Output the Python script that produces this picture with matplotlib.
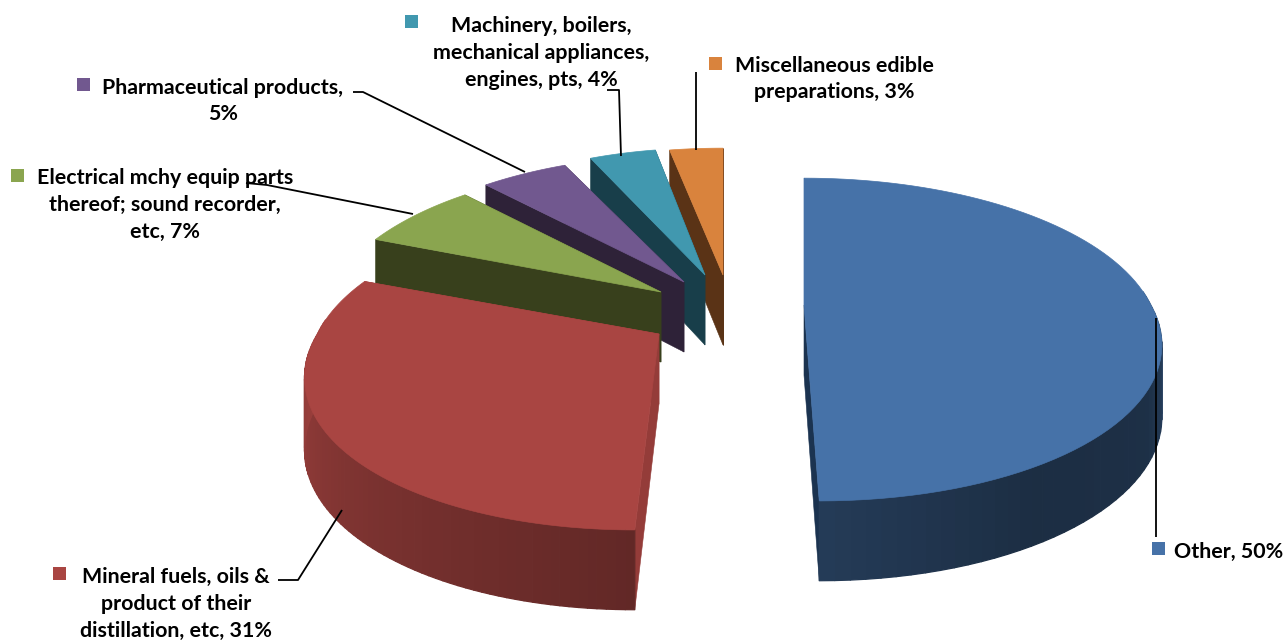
import numpy as np
import matplotlib
matplotlib.use("Agg")
import matplotlib.pyplot as plt
from matplotlib.collections import PolyCollection

plt.rcParams['font.family'] = ['Lato', 'DejaVu Sans']

# ---- data
categories = ["Other", "Mineral fuels, oils & product of their distillation, etc",
              "Electrical mchy equip parts thereof; sound recorder, etc",
              "Pharmaceutical products", "Machinery, boilers, mechanical appliances, engines, pts",
              "Miscellaneous edible preparations"]
shares = [50, 31, 7, 5, 4, 3]
label_texts = ["Other, 50%",
               "Mineral fuels, oils &\nproduct of their\ndistillation, etc, 31%",
               "Electrical mchy equip parts\nthereof; sound recorder,\netc, 7%",
               "Pharmaceutical products,\n5%",
               "Machinery, boilers,\nmechanical appliances,\nengines, pts, 4%",
               "Miscellaneous edible\npreparations, 3%"]

# ---- styles and layout (pixel space)
top_colors = ["#4672A8", "#A94542", "#8AA54F", "#71588F", "#4198AF", "#D9833D"]
wall_colors = ["#1B3350", "#943C39", "#38401C", "#2E2238", "#183E4A", "#5A3316"]
apex = [(804, 305), (659, 334), (661, 292), (684, 282), (705, 275), (723, 275)]
rx_scale = [1.005, 0.99, 0.96, 0.97, 0.93, 1]
swatch = [(1152, 542), (53, 567), (11, 169), (77, 78), (405, 15), (709, 57)]
label_pos = [(1229, 552), (176, 604), (165, 205), (223, 101), (541, 53), (834, 79)]
leaders = [[(1156, 318), (1156, 537)],
           [(342, 510), (298, 580), (278, 580)],
           [(246, 183), (267, 185), (413, 214)],
           [(353, 92), (363, 92), (525, 172)],
           [(621, 156), (619, 90), (607, 90)],
           [(696, 150), (696, 72)]]
RX, RY, K, VX = 345.0, 154.0, 0.214, 748.0
SWATCH = 13

fig = plt.figure(figsize=(12.86, 6.42), dpi=100)
ax = fig.add_axes([0, 0, 1, 1])
ax.set_xlim(0, 1286)
ax.set_ylim(642, 0)
ax.axis('off')


def project(i, theta):
    """Perspective projection of a rim point at theta radians around the apex of slice i."""
    a = apex[i]
    w = 1 + K * np.sin(theta)
    x = a[0] + RX * rx_scale[i] * np.cos(theta) / w + (a[0] - VX) * np.maximum(1 / w - 1, 0)
    y = a[1] - RY * np.sin(theta) / w
    d = 70 + 36 * (1 / w - 1)
    return x, y, d


def shade(i, theta):
    phi = np.degrees(theta)
    if i == 0:  # right side, from the bottom to the right tip
        return np.interp(phi, [-90, -60, -30, -8, 5], [.52, .40, .42, .62, .82])
    ang = (-phi - 90) % 360  # left side, from the bottom to the left tip
    return np.interp(ang, [0, 40, 80, 100, 115], [.58, .72, .88, .95, .97])


# slice angles, clockwise from 12 o'clock
edges = np.cumsum([0] + shares) / sum(shares) * 2 * np.pi
starts = np.pi / 2 - edges[:-1]
ends = np.pi / 2 - edges[1:]

order = [5, 4, 3, 2, 1, 0]
for i in order:
    a = apex[i]
    base_z = order.index(i) * 3
    th = np.linspace(starts[i], ends[i], 90)
    x, y, d = project(i, th)
    rgb = np.array(matplotlib.colors.to_rgb(top_colors[i]))

    # radial walls
    for k in (0, -1):
        wall = [(a[0], a[1]), (x[k], y[k]), (x[k], y[k] + d[k]), (a[0], a[1] + 70)]
        ax.fill(*zip(*wall), color=wall_colors[i], lw=0.4, zorder=base_z + 1)

    # curved outer wall in strips, only where it faces the viewer
    polys, cols = [], []
    for j in range(len(th) - 1):
        mid = (th[j] + th[j + 1]) / 2
        if np.sin(mid) > 0.1:
            continue
        polys.append([(x[j], y[j]), (x[j + 1], y[j + 1]),
                      (x[j + 1], y[j + 1] + d[j + 1]), (x[j], y[j] + d[j])])
        cols.append(rgb * shade(i, mid))
    if polys:
        ax.add_collection(PolyCollection(polys, facecolors=cols, edgecolors=cols,
                                         linewidths=0.9, zorder=base_z + 2))

    # top face
    ax.fill(np.r_[a[0], x], np.r_[a[1], y], color=top_colors[i], lw=0.5, zorder=base_z + 3)

# leaders, swatches, labels
for i, pts in enumerate(leaders):
    ax.plot(*zip(*pts), color='black', lw=1.3, zorder=40, solid_capstyle='butt')
    sx, sy = swatch[i]
    ax.add_patch(plt.Rectangle((sx, sy), SWATCH, SWATCH, color=top_colors[i], lw=0, zorder=41))
    ax.text(*label_pos[i], label_texts[i], ha='center', va='center', fontsize=15.4,
            fontweight='bold', color='black', linespacing=1.42, zorder=42)

fig.savefig("out.png", dpi=100)
